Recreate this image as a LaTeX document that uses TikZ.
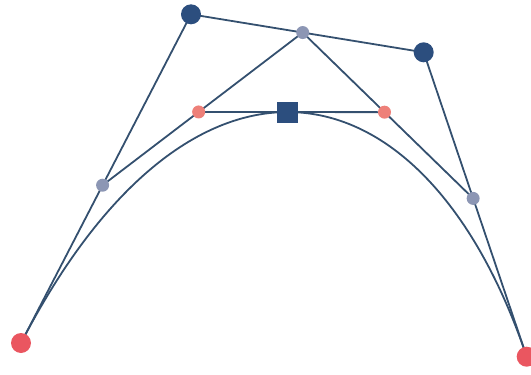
\documentclass[tikz,border=0pt]{standalone}
\usetikzlibrary{calc,backgrounds}
\definecolor{linec}{HTML}{34506F}
\definecolor{ctrlc}{HTML}{2C4E7E}
\definecolor{endc}{HTML}{EA5660}
\definecolor{midc}{HTML}{8C96B4}
\definecolor{pinkc}{HTML}{EE8079}
\begin{document}
\begin{tikzpicture}[x=1pt,y=-1pt,
  conn/.style={draw=linec,line width=1.8pt},
  bigdot/.style={circle,inner sep=0pt,minimum size=20pt},
  smalldot/.style={circle,inner sep=0pt,minimum size=13pt},
  sqnode/.style={rectangle,inner sep=0pt,minimum size=21pt,fill=ctrlc}]
\useasboundingbox (0,0) rectangle (531,375);
\def\tt{0.48}
\coordinate (P0) at (21,343);
\coordinate (P1) at (191,14.3);
\coordinate (P2) at (423.7,52.3);
\coordinate (P3) at (526.7,356.7);
\coordinate (Q0) at ($(P0)!\tt!(P1)$);
\coordinate (Q1) at ($(P1)!\tt!(P2)$);
\coordinate (Q2) at ($(P2)!\tt!(P3)$);
\coordinate (R0) at ($(Q0)!\tt!(Q1)$);
\coordinate (R1) at ($(Q1)!\tt!(Q2)$);
\coordinate (S) at ($(R0)!\tt!(R1)$);
% nodes
\node[bigdot,fill=endc] (n0) at (P0) {};
\node[bigdot,fill=ctrlc] (n1) at (P1) {};
\node[bigdot,fill=ctrlc] (n2) at (P2) {};
\node[bigdot,fill=endc] (n3) at (P3) {};
\node[smalldot,fill=midc] (m0) at (Q0) {};
\node[smalldot,fill=midc] (m1) at (Q1) {};
\node[smalldot,fill=midc] (m2) at (Q2) {};
\node[smalldot,fill=pinkc] (r0) at (R0) {};
\node[smalldot,fill=pinkc] (r1) at (R1) {};
\node[sqnode] (s) at (S) {};
% connectors behind nodes
\begin{scope}[on background layer]
\draw[conn] (n0.center) -- (m0.center) -- (n1.center) -- (m1.center) -- (n2.center) -- (m2.center) -- (n3.center);
\draw[conn] (m0.center) -- (r0.center) -- (m1.center) -- (r1.center) -- (m2.center);
\draw[conn] (r0.center) -- (s.center) -- (r1.center);
\draw[conn] (n0.center) .. controls (n1.center) and (n2.center) .. (n3.center);
\end{scope}
\end{tikzpicture}
\end{document}
